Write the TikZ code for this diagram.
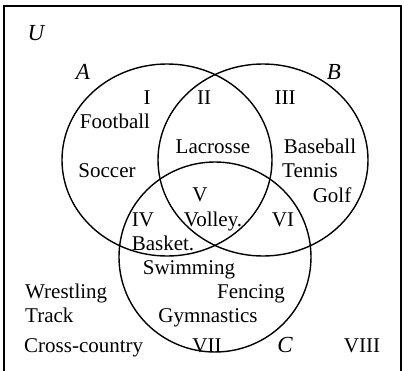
\documentclass[tikz,border=0pt]{standalone}
\usepackage{fontspec}
\setmainfont{Liberation Serif}
\usetikzlibrary{positioning}

\begin{document}
\begin{tikzpicture}[x=1pt, y=-1pt,
    sport/.style={anchor=base, inner sep=0pt, font=\fontsize{21}{25}\selectfont},
    region/.style={sport},
    setname/.style={sport, font=\fontsize{23}{27}\selectfont\itshape},
    setline/.style={line width=1.4pt}]
    \useasboundingbox (0,0) rectangle (404,370);

    % Universal set frame
    \draw[line width=1.8pt] (4,6) rectangle (401,373);

    % The three sets
    \draw[setline] (167,160) ellipse (105 and 96);
    \draw[setline] (263,160) ellipse (105 and 96);
    \draw[setline] (215,257) ellipse (96 and 95);

    % Set names
    \node[setname] (nameU) at (36,40) {U};
    \node[setname] (nameA) at (83,79) {A};
    \node[setname] (nameB) at (334,79) {B};
    \node[setname] (nameC) at (285,352) {C};

    % Region numbers
    \node[region] (r1) at (147,104) {I};
    \node[region] (r2) at (204,104) {II};
    \node[region] (r3) at (285,104) {III};
    \node[region] (r5) at (200,201) {V};
    \node[region] (r4) at (143,226) {IV};
    \node[region] (r6) at (283,226) {VI};
    \node[region] (r7) at (207,352) {VII};
    \node[region] (r8) at (362,352) {VIII};

    % Sports in the sets
    \node[sport] (football) at (115,128) {Football};
    \node[sport] (lacrosse) at (213,153) {Lacrosse};
    \node[sport] (baseball) at (320,153) {Baseball};
    \node[sport] (soccer) at (107,177) {Soccer};
    \node[sport] (tennis) at (310,177) {Tennis};
    \node[sport] (golf) at (332,202) {Golf};
    \node[sport] (volley) at (213,226) {Volley.};
    \node[sport] (basket) at (163,250) {Basket.};
    \node[sport] (swimming) at (189,274) {Swimming};
    \node[sport] (fencing) at (251,298) {Fencing};
    \node[sport] (gymnastics) at (208,322) {Gymnastics};

    % Sports outside the sets
    \node[sport, anchor=base west] (wrestling) at (25,298) {Wrestling};
    \node[sport, anchor=base west] (track) at (25,322) {Track};
    \node[sport, anchor=base west] (cross) at (24,352) {Cross-country};
\end{tikzpicture}
\end{document}
